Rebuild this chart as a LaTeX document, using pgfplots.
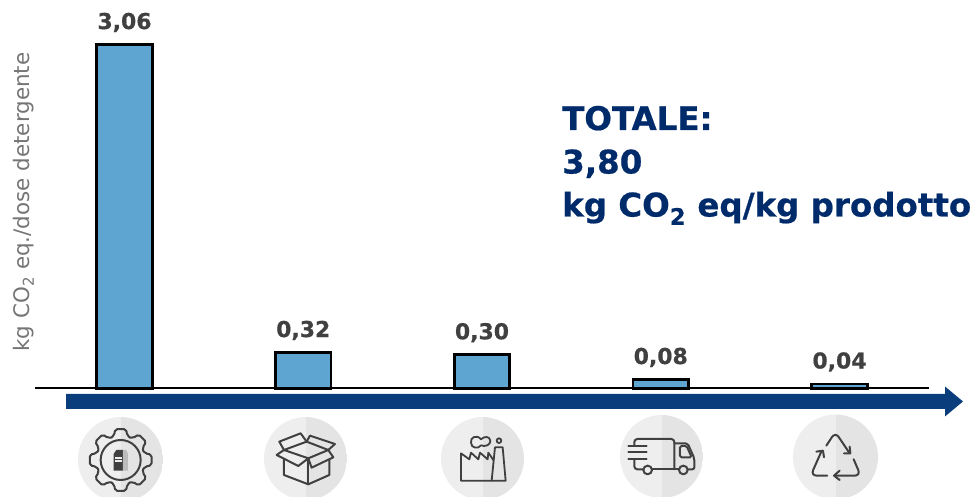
\documentclass[border=0pt]{standalone}
\usepackage{pgfplots}
\pgfplotsset{compat=1.18}
\usepackage{fontspec}
\setmainfont[BoldFeatures={FakeBold=0.6}]{DejaVu Sans}
\definecolor{barblue}{HTML}{5FA5D1}
\definecolor{arrowblue}{HTML}{0A3D7C}
\definecolor{titleblue}{HTML}{002B6B}
\definecolor{labelgrey}{HTML}{404040}
\definecolor{axisgrey}{HTML}{757575}
\definecolor{discL}{HTML}{EEEEEE}
\definecolor{discR}{HTML}{E4E4E4}
\definecolor{icon}{HTML}{404040}
% two-tone disc behind a life-cycle icon: centre x, centre y, radius
\newcommand\disc[3]{%
  \begin{scope}
    \clip (#1,#2) circle[radius=#3];
    \fill[discL] (#1-#3,#2-#3) rectangle (#1+.5,#2+#3);
    \fill[discR] (#1+.5,#2-#3) rectangle (#1+#3,#2+#3);
  \end{scope}}
\begin{document}
\begin{tikzpicture}
\clip[use as bounding box] (0,0) rectangle (971bp,497bp);
\begin{scope}[yshift=497bp,x=1bp,y=-1bp]
  % axis baseline
  \draw[black,line width=2bp] (35,388.5) -- (929,388.5);
\end{scope}
\begin{axis}[
  at={(0,0)},anchor=south west,
  scale only axis,width=971bp,height=497bp,
  hide axis,clip=false,
  xmin=-0.6965,xmax=4.7357,
  ymin=-0.9653,ymax=3.4564,
  ybar,bar width=55.5bp,
  nodes near coords,
  /pgf/number format/.cd,fixed,fixed zerofill,precision=2,use comma,assume math mode=true,
  /pgfplots/.cd,
  nodes near coords style={font=\fontsize{22}{22}\bfseries,text=labelgrey,anchor=base,yshift=15.5bp,inner sep=0pt},
]
\addplot[draw=black,line width=2.6bp,fill=barblue] coordinates {
  (0,3.06) (1,0.32) (2,0.30) (3,0.08) (4,0.04)
};
\end{axis}
\begin{scope}[yshift=497bp,x=1bp,y=-1bp]
  % flow arrow under the stages
  \fill[arrowblue] (66,394) -- (945,394) -- (945,386.5) -- (963,401.5) -- (945,416.5) -- (945,409) -- (66,409) -- cycle;
  % vertical unit label
  \node[rotate=90,text=axisgrey,font=\fontsize{21.5}{21.5}\selectfont,inner sep=0pt] at (24,202) {kg CO\textsubscript{2} eq./dose detergente};
  % total
  \node[anchor=base west,inner sep=0pt,text=titleblue,font=\fontsize{32.6}{32.6}\bfseries] at (562,130) {TOTALE:};
  \node[anchor=base west,inner sep=0pt,text=titleblue,font=\fontsize{32.6}{32.6}\bfseries] at (562,173.5) {3,80};
  \node[anchor=base west,inner sep=0pt,text=titleblue,font=\fontsize{32.6}{32.6}\bfseries] at (562,216.5) {kg CO\textsubscript{2} eq/kg prodotto};
  % discs
  \disc{120.5}{459.5}{42.5}
  \disc{305.5}{458.5}{41.5}
  \disc{482.5}{458.5}{41.5}
  \disc{661.5}{456.5}{41.5}
  \disc{835.5}{457}{42.5}
  % production: gear and carton
  \begin{scope}[shift={(73,410)},x=.3333bp,y=-.3333bp,draw=icon,line width=2bp,line join=round,line cap=round]
    \begin{scope}[shift={(143,150)}]
      \foreach \a in {0,45,...,315}{
        \draw[rounded corners=2bp] (\a-22.5:73) -- (\a-15:76) -- (\a-10:94) -- (\a+10:94) -- (\a+15:76) -- (\a+22.5:73);
      }
      \draw (0,0) circle[radius=60];
    \end{scope}
    \fill[icon] (122,132) -- (130,120) -- (150,120) -- (150,182) -- (122,182) -- cycle;
    \fill[discL] (127,140) rectangle (146,146);
    \fill[discL] (127,151) rectangle (146,156);
    \fill[icon!35] (150,120) -- (160,120) -- (165,132) -- (165,182) -- (150,182) -- cycle;
  \end{scope}
  % packaging: open box
  \begin{scope}[shift={(60,370)},x=.3333bp,y=-.3333bp,draw=icon,line width=2bp,line join=round,line cap=round]
    \draw (672,268) -- (672,315) -- (745,343) -- (808,315) -- (808,268);
    \draw (745,265) -- (745,343);
    \draw (672,240) -- (740,215) -- (805,240) -- (745,265) -- cycle;
    \draw (672,240) -- (658,215) -- (722,190) -- (740,215);
    \draw (740,215) -- (750,197) -- (825,222) -- (805,240);
    \draw (672,240) -- (650,255) -- (715,288) -- (745,265);
    \draw (805,240) -- (820,262) -- (755,293) -- (745,265);
  \end{scope}
  % use: factory
  \begin{scope}[shift={(435,410)},x=.3333bp,y=-.3333bp,draw=icon,line width=1.8bp,line join=round,line cap=round]
    \draw (170,212) -- (78,212) -- (78,130) -- (103,148) -- (108,128) -- (130,148) -- (135,128) -- (158,148) -- (160,128) -- (175,150);
    \draw (170,212) -- (180,112) -- (203,112) -- (212,212) -- cycle;
    \draw (138,88) .. controls (125,72) and (105,82) .. (108,98) .. controls (108,115) and (130,118) .. (138,106) .. controls (150,112) and (168,104) .. (166,92) .. controls (164,78) and (148,78) .. (138,88) -- cycle;
    \draw (192,92) circle[radius=7];
  \end{scope}
  % transport: truck
  \begin{scope}[shift={(615,410)},x=.3333bp,y=-.3333bp,draw=icon,line width=2bp,line join=round,line cap=round]
    \draw[rounded corners=3bp] (58,108) -- (58,87) -- (178,87) -- (178,178);
    \draw (40,108) -- (95,108);
    \draw (40,127) -- (95,127);
    \draw (40,147) -- (95,147);
    \draw[rounded corners=3bp] (58,147) -- (58,178) -- (84,178);
    \draw (112,178) -- (190,178);
    \draw (98,180) circle[radius=13];
    \draw (205,180) circle[radius=13];
    \draw[rounded corners=2bp] (178,100) -- (218,100) -- (238,145) -- (238,178) -- (220,178);
    \draw[rounded corners=1.5bp] (195,108) -- (215,108) -- (230,142) -- (195,142) -- cycle;
  \end{scope}
  % end of life: recycling triangle
  \begin{scope}[shift={(788,410)},x=.3333bp,y=-.3333bp,draw=icon,line width=2bp,line join=round,line cap=round]
    \draw[rounded corners=6bp] (115,107) -- (142,66) -- (185,130);
    \draw (168,130) -- (187,130) -- (185,110);
    \draw[rounded corners=6bp] (197,148) -- (218,197) -- (140,197);
    \draw (155,182) -- (138,197) -- (155,210);
    \draw[rounded corners=6bp] (118,197) -- (68,197) -- (100,125);
    \draw (85,125) -- (105,122) -- (108,142);
  \end{scope}
\end{scope}
\end{tikzpicture}
\end{document}
